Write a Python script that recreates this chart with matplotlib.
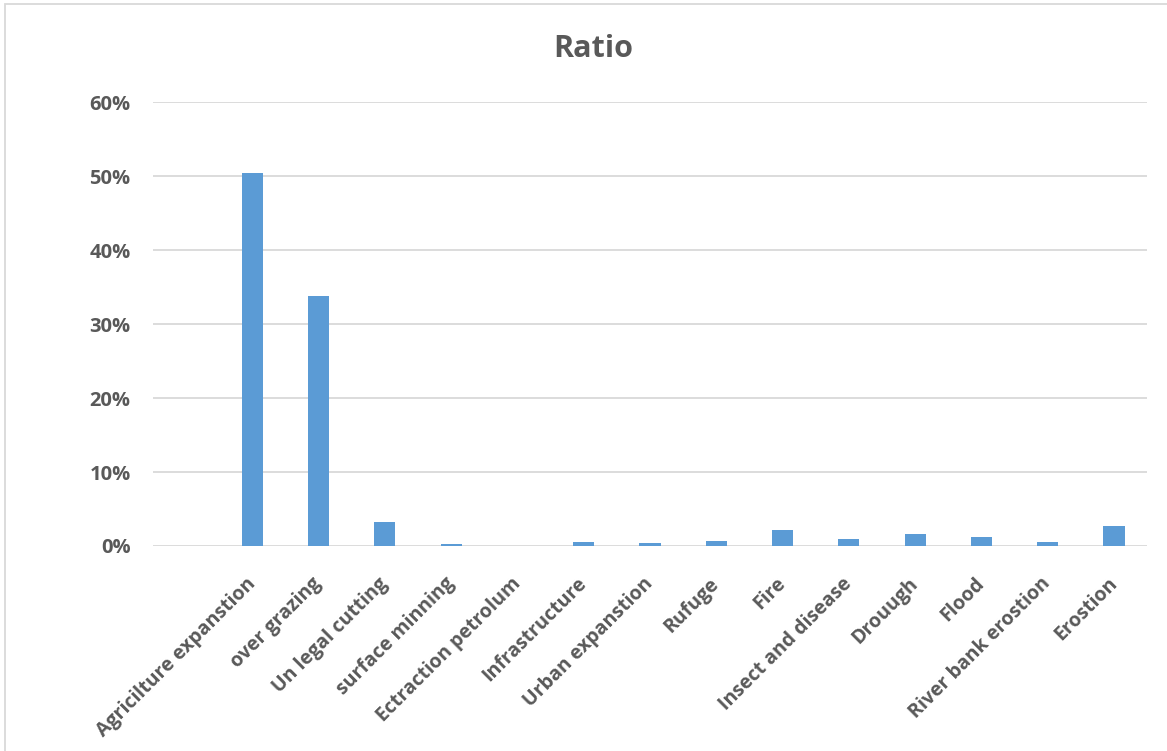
import numpy as np
import matplotlib
matplotlib.use("Agg")
import matplotlib.pyplot as plt
import matplotlib.transforms as mtransforms
from matplotlib.ticker import PercentFormatter
from matplotlib.patches import Rectangle

categories = ["Agricilture expanstion", "over grazing", "Un legal cutting",
              "surface minning", "Ectraction petrolum", "Infrastructure",
              "Urban expanstion", "Rufuge", "Fire", "Insect and disease",
              "Drouugh", "Flood", "River bank erostion", "Erostion"]
ratio = [0.504, 0.338, 0.0318, 0.003, 0.0005, 0.0048, 0.0043, 0.007,
         0.0218, 0.01, 0.0165, 0.0125, 0.006, 0.0272]

txt = "#595959"
plt.rcParams['font.family'] = ['Open Sans', 'DejaVu Sans']
plt.rcParams['font.weight'] = 'bold'

fig = plt.figure(figsize=(11.67, 7.51), dpi=100)
ax = fig.add_axes([0.131, 0.273, 0.852, 0.591])

x = np.arange(len(categories))
ax.bar(x, ratio, width=0.32, color="#5B9BD5", zorder=3)

ax.set_ylim(0, 0.6)
ax.set_xlim(-1.5, len(categories) - 0.5)
ax.set_yticks(np.arange(0, 0.61, 0.1))
ax.yaxis.set_major_formatter(PercentFormatter(1.0, decimals=0))
ax.grid(axis="y", color="#D9D9D9", linewidth=1.3, zorder=0)
for s in ax.spines.values():
    s.set_visible(False)
ax.tick_params(axis="both", length=0, colors=txt, labelsize=14.5)
ax.tick_params(axis="y", pad=16)
ax.tick_params(axis="x", pad=20)
ax.set_xticks(x)
ax.set_xticklabels(categories, rotation=45, ha="right", rotation_mode="anchor",
                   fontsize=14, color=txt, fontweight="bold")
shift = mtransforms.ScaledTranslation(-7 / 100, 0, fig.dpi_scale_trans)
for lab in ax.get_xticklabels():
    lab.set_transform(lab.get_transform() + shift)
for lab in ax.get_yticklabels():
    lab.set_fontweight("bold")

fig.text(0.508, 0.935, "Ratio", ha="center", va="center", fontsize=22,
         color=txt, fontweight="bold")

fig.patches.append(Rectangle((5 / 1167, -0.1), 1.2, 1 - 4 / 751 + 0.1,
                             transform=fig.transFigure, fill=False,
                             edgecolor="#D9D9D9", linewidth=1.3))

fig.savefig("out.png", dpi=100)
